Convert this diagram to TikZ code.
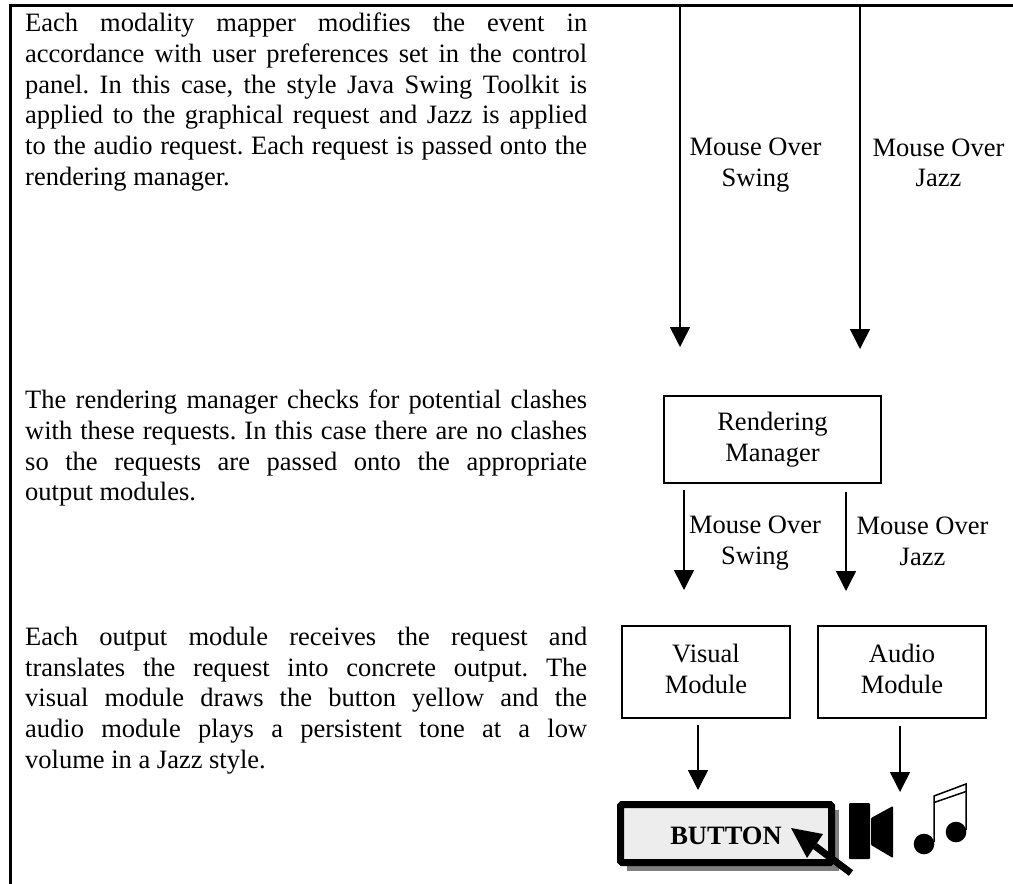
\documentclass[tikz,border=0pt]{standalone}
\usepackage{fontspec}
\setmainfont{Liberation Serif}
\usetikzlibrary{arrows.meta}
\newcommand{\bodyfont}{\fontsize{26.5}{30.7}\selectfont\frenchspacing}
\newcommand{\upstack}[2]{\raisebox{3pt}{\begin{tabular}{@{}c@{}}#1\\#2\end{tabular}}}
\tikzset{
  x=1pt,y=-1pt,
  para/.style={anchor=north west,inner sep=0pt,text width=562pt,align=justify,font=\bodyfont},
  modbox/.style={draw,line width=1.5pt,inner sep=0pt,align=center,font=\bodyfont},
  lbl/.style={inner sep=0pt,align=center,font=\bodyfont},
  flow/.style={line width=1.5pt,-{Triangle[length=20pt,width=20pt]},shorten >=0pt},
  rule/.style={line width=3.5pt},
}
\begin{document}
\begin{tikzpicture}
\useasboundingbox (0,0) rectangle (1013,884);
\fill[white] (0,0) rectangle (1013,884);
\draw[rule] (10.5,884) -- (10.5,5.5) -- (1013,5.5);

\node[para] (p1) at (25,13) {Each modality mapper modifies the event in\linebreak accordance with user preferences set in the control\linebreak panel. In this case, the style Java Swing Toolkit is\linebreak applied to the graphical request and Jazz is applied\linebreak to the audio request. Each request is passed onto the\linebreak rendering manager.};
\node[para] (p2) at (25,390) {The rendering manager checks for potential clashes\linebreak with these requests. In this case there are no clashes\linebreak so the requests are passed onto the appropriate\linebreak output modules.};
\node[para] (p3) at (25,627) {Each output module receives the request and\linebreak translates the request into concrete output. The\linebreak visual module draws the button yellow and the\linebreak audio module plays a persistent tone at a low\linebreak volume in a Jazz style.};

\coordinate (a1s) at (680,6); \coordinate (a1e) at (680,347);
\coordinate (a2s) at (860,6); \coordinate (a2e) at (860,349);
\draw[flow] (a1s) -- (a1e);
\draw[flow] (a2s) -- (a2e);
\node[lbl] (l1) at (755.5,165) {Mouse Over\\Swing};
\node[lbl] (l2) at (938.5,163) {Mouse Over\\Jazz};

\node[modbox,minimum width=217pt,minimum height=87pt] (rm) at (772.5,439.5) {Rendering\\Manager};
\coordinate (b1s) at (684,490); \coordinate (b1e) at (684,590);
\coordinate (b2s) at (846,492); \coordinate (b2e) at (846,591);
\draw[flow] (b1s) -- (b1e);
\draw[flow] (b2s) -- (b2e);
\node[lbl] (l3) at (755,543) {Mouse Over\\Swing};
\node[lbl] (l4) at (922.5,541) {Mouse Over\\Jazz};

\node[modbox,minimum width=168pt,minimum height=92pt] (vm) at (706,672) {\upstack{Visual}{Module}};
\node[modbox,minimum width=168pt,minimum height=92pt] (am) at (902,672) {\upstack{Audio}{Module}};
\coordinate (c1s) at (698,725); \coordinate (c1e) at (698,790);
\coordinate (c2s) at (900,726); \coordinate (c2e) at (900,792);
\draw[flow] (c1s) -- (c1e);
\draw[flow] (c2s) -- (c2e);

\fill[black!50] (627,810) rectangle (839,871);
\draw[line width=7pt,fill=black!7,rounded corners=1.5pt] (620.5,804.5) rectangle (831.5,862.5);
\node[inner sep=0pt,anchor=base,font=\bodyfont\bfseries] (btn) at (726,844) {BUTTON};
\fill (791,828) -- (823,834) -- (807,858) -- cycle;
\draw[line width=7pt] (815,846) -- (851,873);

\fill[rounded corners=1pt] (849,803) rectangle (870,859);
\fill[rounded corners=1pt] (871,818) -- (893,806) -- (893,858) -- (871,845) -- cycle;
\fill (924,844) circle (10.3);
\fill (956,832) circle (10.3);
\draw[line width=1.5pt] (934,842) -- (934,796) -- (966,784) -- (966,830);
\draw[line width=1.5pt] (934,802.5) -- (966,791.5);
\end{tikzpicture}
\end{document}
